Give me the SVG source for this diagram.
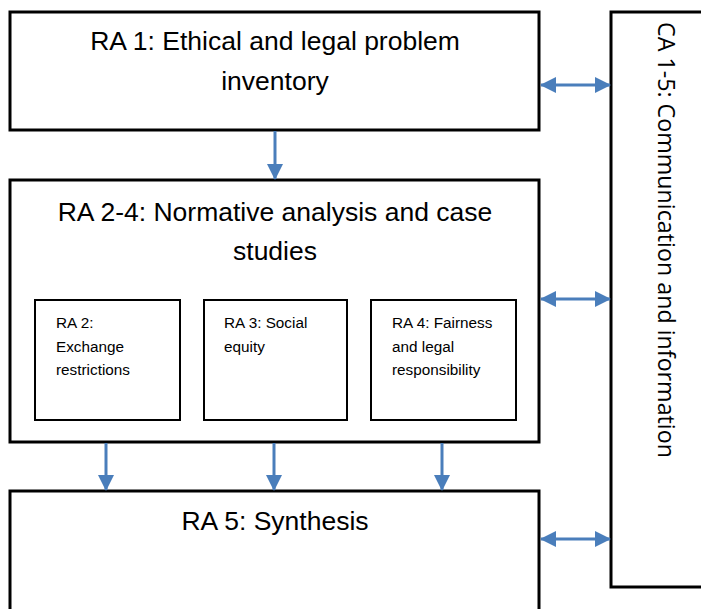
<svg xmlns="http://www.w3.org/2000/svg" width="701" height="609" viewBox="0 0 701 609">
<defs>
<style>
.box{fill:#fff;stroke:#000;stroke-width:3}
.sub{fill:#fff;stroke:#000;stroke-width:2}
.big{font-family:"Liberation Sans",Arial,sans-serif;font-size:26.5px;fill:#000;text-anchor:middle}
.small{font-family:"Liberation Sans",Arial,sans-serif;font-size:15.3px;fill:#000}
.vert{font-family:"Open Sans","Liberation Sans",sans-serif;font-size:23px;fill:#000}
.con{stroke:#4a7ebb;stroke-width:3;fill:none}
</style>
<marker id="ah" markerUnits="userSpaceOnUse" markerWidth="16" markerHeight="16" viewBox="0 0 16 16" refX="15" refY="8" orient="auto-start-reverse">
<path d="M0,0 L16,8 L0,16 Z" fill="#4a7ebb"/>
</marker>
</defs>
<g id="ca">
<rect class="box" x="611" y="12" width="100" height="575"/>
<text class="vert" transform="translate(658,22) rotate(90)" textLength="436" lengthAdjust="spacingAndGlyphs">CA 1-5: Communication and information</text>
</g>
<g id="ra1">
<rect class="box" x="10" y="12" width="529" height="118"/>
<text class="big" x="275" y="50">RA 1: Ethical and legal problem</text>
<text class="big" x="275" y="90">inventory</text>
</g>
<g id="ra24">
<rect class="box" x="10" y="180" width="529" height="262"/>
<text class="big" x="275" y="221">RA 2-4: Normative analysis and case</text>
<text class="big" x="275" y="260">studies</text>
</g>
<g id="ra2">
<rect class="sub" x="35" y="300" width="145" height="120"/>
<text class="small" x="56" y="328">RA 2:</text>
<text class="small" x="56" y="352">Exchange</text>
<text class="small" x="56" y="375">restrictions</text>
</g>
<g id="ra3">
<rect class="sub" x="204" y="300" width="143" height="120"/>
<text class="small" x="224" y="328">RA 3: Social</text>
<text class="small" x="224" y="352">equity</text>
</g>
<g id="ra4">
<rect class="sub" x="371" y="300" width="145" height="120"/>
<text class="small" x="392" y="328">RA 4: Fairness</text>
<text class="small" x="392" y="352">and legal</text>
<text class="small" x="392" y="375">responsibility</text>
</g>
<g id="ra5">
<rect class="box" x="10" y="491" width="529" height="130"/>
<text class="big" x="275" y="530">RA 5: Synthesis</text>
</g>
<g id="connectors">
<line class="con" x1="275" y1="131" x2="275" y2="179" marker-end="url(#ah)"/>
<line class="con" x1="106" y1="443" x2="106" y2="490" marker-end="url(#ah)"/>
<line class="con" x1="274" y1="443" x2="274" y2="490" marker-end="url(#ah)"/>
<line class="con" x1="442" y1="443" x2="442" y2="490" marker-end="url(#ah)"/>
<line class="con" x1="541" y1="85" x2="610" y2="85" marker-start="url(#ah)" marker-end="url(#ah)"/>
<line class="con" x1="541" y1="299" x2="610" y2="299" marker-start="url(#ah)" marker-end="url(#ah)"/>
<line class="con" x1="541" y1="539" x2="610" y2="539" marker-start="url(#ah)" marker-end="url(#ah)"/>
</g>
</svg>
